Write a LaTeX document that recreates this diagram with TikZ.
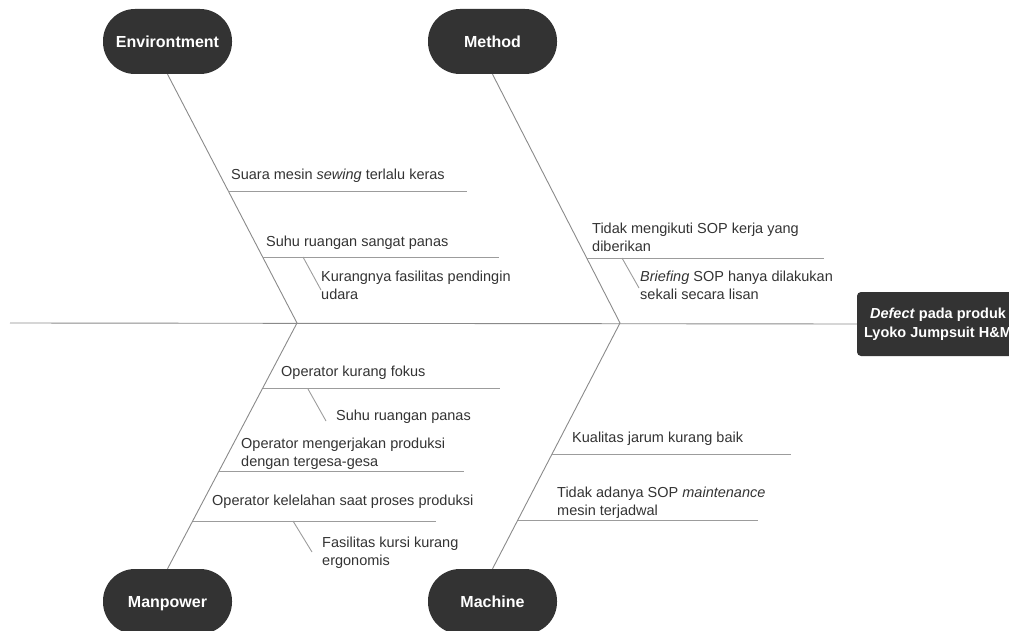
\documentclass[tikz,border=0pt]{standalone}
\usepackage{fontspec}
\setmainfont{Liberation Sans}
\definecolor{pillgray}{HTML}{333333}
\definecolor{linegray}{HTML}{8A8A8A}
\definecolor{textgray}{HTML}{333333}
\begin{document}
\begin{tikzpicture}[x=1pt,y=-1pt,
		category/.style={fill=pillgray,rounded corners=32pt,minimum width=129pt,minimum height=65pt,inner sep=0pt,text height=11.5pt,text depth=0pt,text=white,font=\fontsize{16}{18}\selectfont\bfseries},
		effectbox/.style={fill=pillgray,rounded corners=4pt,minimum width=162pt,minimum height=64pt,inner sep=0pt,text=white,align=center,font=\fontsize{14.5}{18.5}\selectfont\bfseries},
		cause/.style={anchor=north west,inner sep=0pt,align=left,text=textgray,font=\fontsize{14.5}{18}\selectfont},
		bone/.style={draw=linegray,line width=0.9pt},
		twig/.style={draw=linegray!85,line width=0.9pt}]
			\useasboundingbox (0,0) rectangle (1009,631);
			\node[category] (env) at (167.5,41.5) {Environtment};
			\node[category] (meth) at (492.5,41.5) {Method};
			\node[category] (man) at (167.5,601.5) {Manpower};
			\node[category] (mach) at (492.5,601.5) {Machine};
			\node[effectbox] (effect) at (938,324) {\textit{Defect} pada produk\\Lyoko Jumpsuit H\&M};
			\coordinate (tail) at (10,323);
			\coordinate (jE) at (297,323);
			\coordinate (jM) at (620,323);
			\draw[bone] (tail) -- (effect.west);
			\draw[bone] (env.south) -- (jE);
			\draw[bone] (meth.south) -- (jM);
			\draw[bone] (man.north) -- (jE);
			\draw[bone] (mach.north) -- (jM);
			% Environment
			\node[cause] (e1) at (231,169) {Suara mesin \textit{sewing} terlalu keras};
			\coordinate (e1a) at (228,191);
			\coordinate (e1b) at (467,191);
			\draw[twig] (e1a) -- (e1b);
			\node[cause] (e2) at (266,236) {Suhu ruangan sangat panas};
			\coordinate (e2a) at (263,257);
			\coordinate (e2b) at (499,257);
			\draw[twig] (e2a) -- (e2b);
			\node[cause] (e21) at (321,271) {Kurangnya fasilitas pendingin\\udara};
			\coordinate (e21a) at (303,257);
			\coordinate (e21b) at (321,290);
			\draw[twig] (e21a) -- (e21b);
			% Method
			\node[cause] (m1) at (592,223) {Tidak mengikuti SOP kerja yang\\diberikan};
			\coordinate (m1a) at (587,258);
			\coordinate (m1b) at (824,258);
			\draw[twig] (m1a) -- (m1b);
			\node[cause] (m11) at (640,271) {\textit{Briefing} SOP hanya dilakukan\\sekali secara lisan};
			\coordinate (m11a) at (622,258);
			\coordinate (m11b) at (639,288);
			\draw[twig] (m11a) -- (m11b);
			% Manpower
			\node[cause] (p1) at (281,366) {Operator kurang fokus};
			\coordinate (p1a) at (263,388);
			\coordinate (p1b) at (500,388);
			\draw[twig] (p1a) -- (p1b);
			\node[cause] (p11) at (336,410) {Suhu ruangan panas};
			\coordinate (p11a) at (308,389);
			\coordinate (p11b) at (326,421);
			\draw[twig] (p11a) -- (p11b);
			\node[cause] (p2) at (241,438) {Operator mengerjakan produksi\\dengan tergesa-gesa};
			\coordinate (p2a) at (219,471);
			\coordinate (p2b) at (464,471);
			\draw[twig] (p2a) -- (p2b);
			\node[cause] (p3) at (212,495) {Operator kelelahan saat proses produksi};
			\coordinate (p3a) at (193,521);
			\coordinate (p3b) at (436,521);
			\draw[twig] (p3a) -- (p3b);
			\node[cause] (p31) at (322,537) {Fasilitas kursi kurang\\ergonomis};
			\coordinate (p31a) at (293,521);
			\coordinate (p31b) at (312,552);
			\draw[twig] (p31a) -- (p31b);
			% Machine
			\node[cause] (k1) at (572,432) {Kualitas jarum kurang baik};
			\coordinate (k1a) at (552,454);
			\coordinate (k1b) at (791,454);
			\draw[twig] (k1a) -- (k1b);
			\node[cause] (k2) at (557,487) {Tidak adanya SOP \textit{maintenance}\\mesin terjadwal};
			\coordinate (k2a) at (518,520);
			\coordinate (k2b) at (758,520);
			\draw[twig] (k2a) -- (k2b);
	\end{tikzpicture}
\end{document}
